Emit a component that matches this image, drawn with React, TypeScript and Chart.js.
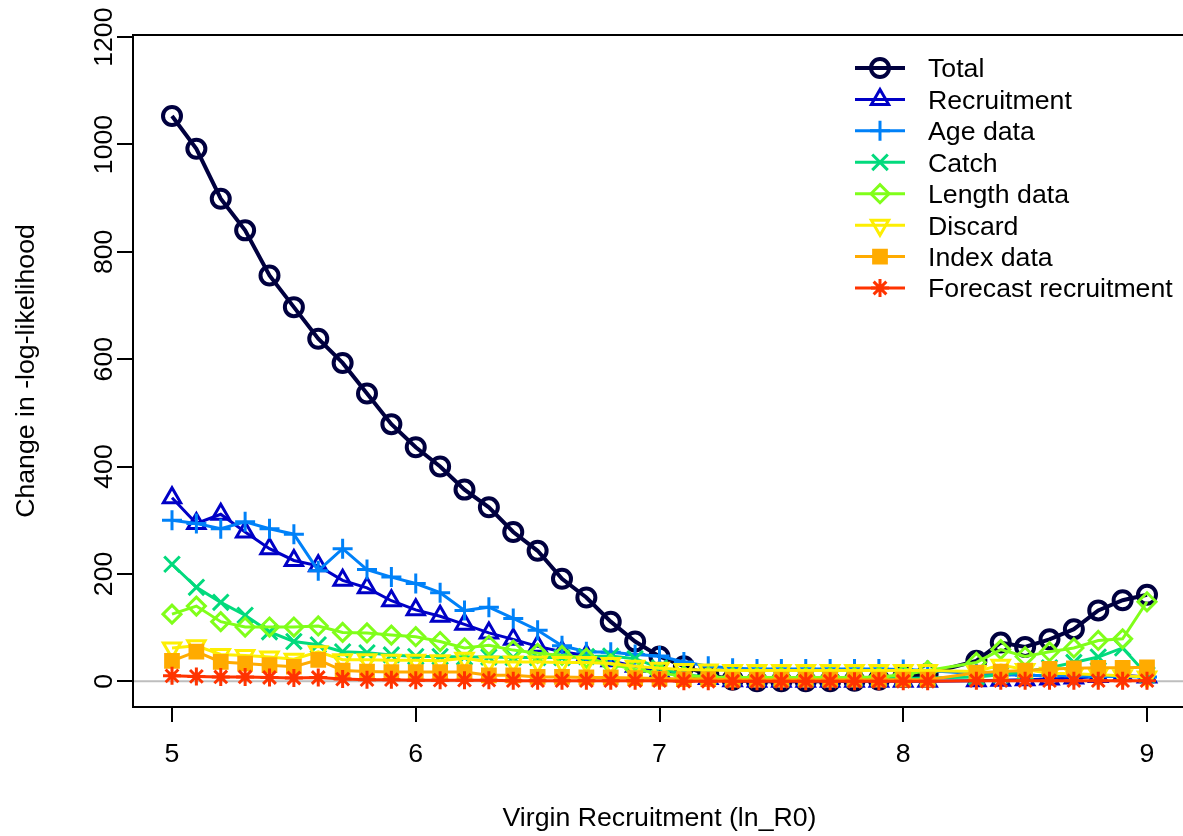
import React, { useEffect, useRef } from "react";
import { Chart, registerables } from "chart.js";
import { drawPoint } from "chart.js/helpers";

Chart.register(...registerables);

// ---------- data ----------
const xValues = [
  5.0, 5.1, 5.2, 5.3, 5.4, 5.5, 5.6, 5.7, 5.8, 5.9,
  6.0, 6.1, 6.2, 6.3, 6.4, 6.5, 6.6, 6.7, 6.8, 6.9,
  7.0, 7.1, 7.2, 7.3, 7.4, 7.5, 7.6, 7.7, 7.8, 7.9,
  8.0, 8.1,
  8.3, 8.4, 8.5, 8.6, 8.7, 8.8, 8.9, 9.0,
];

const totalValues = [
  1053, 992, 899, 840, 756, 697, 638, 593, 536, 479,
  436, 400, 357, 324, 278, 243, 191, 156, 111, 74,
  46, 28, 12, 3, 0, 0, 0, 0, 1, 3,
  8, 14,
  38, 72, 64, 78, 97, 132, 151, 161,
];

const recruitmentValues = [
  342, 294, 311, 278, 247, 225, 215, 188, 174, 150,
  133, 121, 106, 90, 78, 65, 55, 48, 38, 28,
  18, 10, 5, 1, 0, 0, 0, 0, 0, 0,
  0, 0,
  1, 2, 3, 4, 6, 9, 11, 8,
];

const ageValues = [
  300, 294, 284, 297, 284, 274, 206, 247, 208, 194,
  182, 165, 132, 138, 117, 95, 66, 55, 54, 50,
  47, 36, 28, 24, 23, 23, 23, 23, 23, 23,
  22, 20,
  14, 12, 11, 10, 10, 9, 9, 8,
];

const catchValues = [
  218, 175, 147, 123, 92, 74, 68, 55, 53, 49,
  46, 46, 45, 45, 44, 44, 44, 46, 47, 42,
  25, 12, 8, 6, 5, 5, 5, 5, 5, 5,
  5, 6,
  8, 12, 18, 25, 35, 45, 62, 12,
];

const lengthValues = [
  125, 140, 111, 101, 101, 101, 103, 91, 90, 86,
  83, 74, 62, 67, 58, 52, 48, 43, 32, 22,
  15, 10, 8, 7, 7, 7, 7, 7, 7, 8,
  12, 20,
  35, 59, 46, 55, 62, 76, 79, 148,
];

const discardValues = [
  62, 66, 50, 48, 45, 41, 55, 40, 40, 39,
  39, 38, 43, 36, 36, 36, 35, 35, 33, 28,
  24, 22, 21, 20, 20, 20, 20, 20, 20, 20,
  20, 20,
  18, 30, 22, 15, 14, 12, 10, 8,
];

const indexValues = [
  38, 55, 36, 33, 30, 27, 40, 20, 18, 17,
  17, 17, 17, 11, 11, 8, 8, 7, 7, 6,
  5, 4, 4, 3, 3, 3, 3, 3, 3, 3,
  3, 3,
  16, 18, 20, 23, 24, 25, 25, 26,
];

const forecastValues = [
  10, 9, 8, 8, 7, 6, 7, 4, 3, 3,
  2, 2, 2, 2, 1, 1, 1, 1, 1, 1,
  1, 0, 0, 0, 0, 0, 0, 0, 0, 0,
  0, 0,
  1, 1, 1, 1, 1, 1, 1, 1,
];

const seriesNames = [
  "Total",
  "Recruitment",
  "Age data",
  "Catch",
  "Length data",
  "Discard",
  "Index data",
  "Forecast recruitment",
];
const seriesValues = [
  totalValues,
  recruitmentValues,
  ageValues,
  catchValues,
  lengthValues,
  discardValues,
  indexValues,
  forecastValues,
];

const xTickValues = [5, 6, 7, 8, 9];
const yTickValues = [0, 200, 400, 600, 800, 1000, 1200];
const xAxisTitle = "Virgin Recruitment (ln_R0)";
const yAxisTitle = "Change in -log-likelihood";

// ---------- styles ----------
const FONT = '"Liberation Sans", Arial, Helvetica, sans-serif';
const FONT_SIZE = 26.7;

type Sty = {
  color: string;
  pointStyle: any;
  rotation: number;
  radius: number;
  lineWidth: number;
  pointBorder: number;
  filled: boolean;
};

const styles: Sty[] = [
  { color: "#00003F", pointStyle: "circle", rotation: 0, radius: 9, lineWidth: 4, pointBorder: 4, filled: false },
  { color: "#0000C6", pointStyle: "triangle", rotation: 0, radius: 10, lineWidth: 3, pointBorder: 3, filled: false },
  { color: "#0081F8", pointStyle: "cross", rotation: 0, radius: 10, lineWidth: 3, pointBorder: 3, filled: false },
  { color: "#02DA7D", pointStyle: "crossRot", rotation: 0, radius: 11, lineWidth: 3, pointBorder: 3, filled: false },
  { color: "#80FE1A", pointStyle: "rectRot", rotation: 0, radius: 9, lineWidth: 3, pointBorder: 3, filled: false },
  { color: "#FDEE02", pointStyle: "triangle", rotation: 180, radius: 10, lineWidth: 3, pointBorder: 3, filled: false },
  { color: "#FFAB00", pointStyle: "rect", rotation: 0, radius: 9, lineWidth: 3, pointBorder: 3, filled: true },
  { color: "#FF3300", pointStyle: "star", rotation: 0, radius: 9, lineWidth: 3, pointBorder: 3, filled: false },
];

const TRANSPARENT = "rgba(0,0,0,0)";

const zeroLinePlugin = {
  id: "zeroLine",
  beforeDatasetsDraw(chart: any) {
    const { ctx, chartArea } = chart;
    const y0 = chart.scales.y.getPixelForValue(0);
    ctx.save();
    ctx.strokeStyle = "#BEBEBE";
    ctx.lineWidth = 2;
    ctx.beginPath();
    ctx.moveTo(chartArea.left, y0);
    ctx.lineTo(chartArea.right, y0);
    ctx.stroke();
    ctx.restore();
  },
};

const decorPlugin = {
  id: "decor",
  afterDraw(chart: any) {
    const { ctx, chartArea } = chart;
    const ys = chart.scales.y;
    ctx.save();
    // box
    ctx.strokeStyle = "#000";
    ctx.lineWidth = 2;
    ctx.strokeRect(chartArea.left, chartArea.top, chartArea.right - chartArea.left, chartArea.bottom - chartArea.top);

    ctx.fillStyle = "#000";
    ctx.font = `${FONT_SIZE}px ${FONT}`;
    ctx.textAlign = "center";
    ctx.textBaseline = "middle";

    // y tick labels (rotated, R style)
    yTickValues.forEach((v) => {
      const y = ys.getPixelForValue(v);
      ctx.save();
      ctx.translate(chartArea.left - 28, y);
      ctx.rotate(-Math.PI / 2);
      ctx.fillText(String(v), 0, 0);
      ctx.restore();
    });

    // y axis title
    ctx.save();
    ctx.translate(27, (chartArea.top + chartArea.bottom) / 2);
    ctx.rotate(-Math.PI / 2);
    ctx.fillText(yAxisTitle, 0, 0);
    ctx.restore();

    // x axis title
    ctx.fillText(xAxisTitle, (chartArea.left + chartArea.right) / 2, 819);

    // legend
    const lx = chartArea.right - 331;
    seriesNames.forEach((name, i) => {
      const st = styles[i];
      const y = 68 + i * 31.43;
      ctx.strokeStyle = st.color;
      ctx.lineWidth = st.lineWidth;
      ctx.beginPath();
      ctx.moveTo(lx, y);
      ctx.lineTo(lx + 50, y);
      ctx.stroke();
      ctx.fillStyle = st.filled ? st.color : TRANSPARENT;
      ctx.lineWidth = st.pointBorder;
      drawPoint(
        ctx,
        { pointStyle: st.pointStyle, rotation: st.rotation, radius: st.radius, borderWidth: st.pointBorder } as any,
        lx + 25,
        y
      );
      ctx.fillStyle = "#000";
      ctx.textAlign = "left";
      ctx.textBaseline = "middle";
      ctx.fillText(name, lx + 73, y + 2);
    });
    ctx.restore();
  },
};

export default function App() {
  const ref = useRef<HTMLCanvasElement>(null);

  useEffect(() => {
    const canvas = ref.current;
    if (!canvas) return;
    const datasets = seriesNames.map((name, i) => {
      const st = styles[i];
      return {
        label: name,
        data: xValues.map((x, j) => ({ x, y: seriesValues[i][j] })),
        borderColor: st.color,
        backgroundColor: st.filled ? st.color : TRANSPARENT,
        borderWidth: st.lineWidth,
        pointStyle: st.pointStyle,
        pointRotation: st.rotation,
        pointRadius: st.radius,
        pointBorderWidth: st.pointBorder,
        pointBorderColor: st.color,
        pointBackgroundColor: st.filled ? st.color : TRANSPARENT,
        tension: 0,
        order: seriesNames.length - i,
        clip: false as any,
      };
    });

    const chart = new Chart(canvas, {
      type: "line",
      data: { datasets },
      options: {
        responsive: false,
        animation: false,
        devicePixelRatio: 1,
        events: [],
        layout: { padding: { top: 35, right: 14, left: 0, bottom: 0 } },
        plugins: {
          legend: { display: false },
          tooltip: { enabled: false },
        },
        scales: {
          x: {
            type: "linear",
            min: 4.84,
            max: 9.16,
            afterBuildTicks: (s: any) => {
              s.ticks = xTickValues.map((v) => ({ value: v }));
            },
            afterFit: (s: any) => {
              s.height = 129;
            },
            grid: { drawOnChartArea: false, drawTicks: true, tickLength: 15, color: "#000", lineWidth: 2 },
            border: { display: false },
            ticks: {
              font: { family: FONT, size: FONT_SIZE },
              color: "#000",
              padding: 17,
              maxRotation: 0,
              autoSkip: false,
            },
          },
          y: {
            type: "linear",
            min: -48,
            max: 1204,
            afterBuildTicks: (s: any) => {
              s.ticks = yTickValues.map((v) => ({ value: v }));
            },
            afterFit: (s: any) => {
              s.width = 133;
            },
            grid: { drawOnChartArea: false, drawTicks: true, tickLength: 16, color: "#000", lineWidth: 2 },
            border: { display: false },
            ticks: { display: false },
          },
        },
      },
      plugins: [zeroLinePlugin, decorPlugin],
    });
    return () => chart.destroy();
  }, []);

  return (
    <div
      style={{
        position: "fixed",
        left: 0,
        top: 0,
        width: 1183,
        height: 836,
        overflow: "hidden",
        background: "#fff",
      }}
    >
      <canvas
        ref={ref}
        width={1200}
        height={836}
        style={{ position: "absolute", left: 0, top: 0, width: 1200, height: 836 }}
      />
    </div>
  );
}
